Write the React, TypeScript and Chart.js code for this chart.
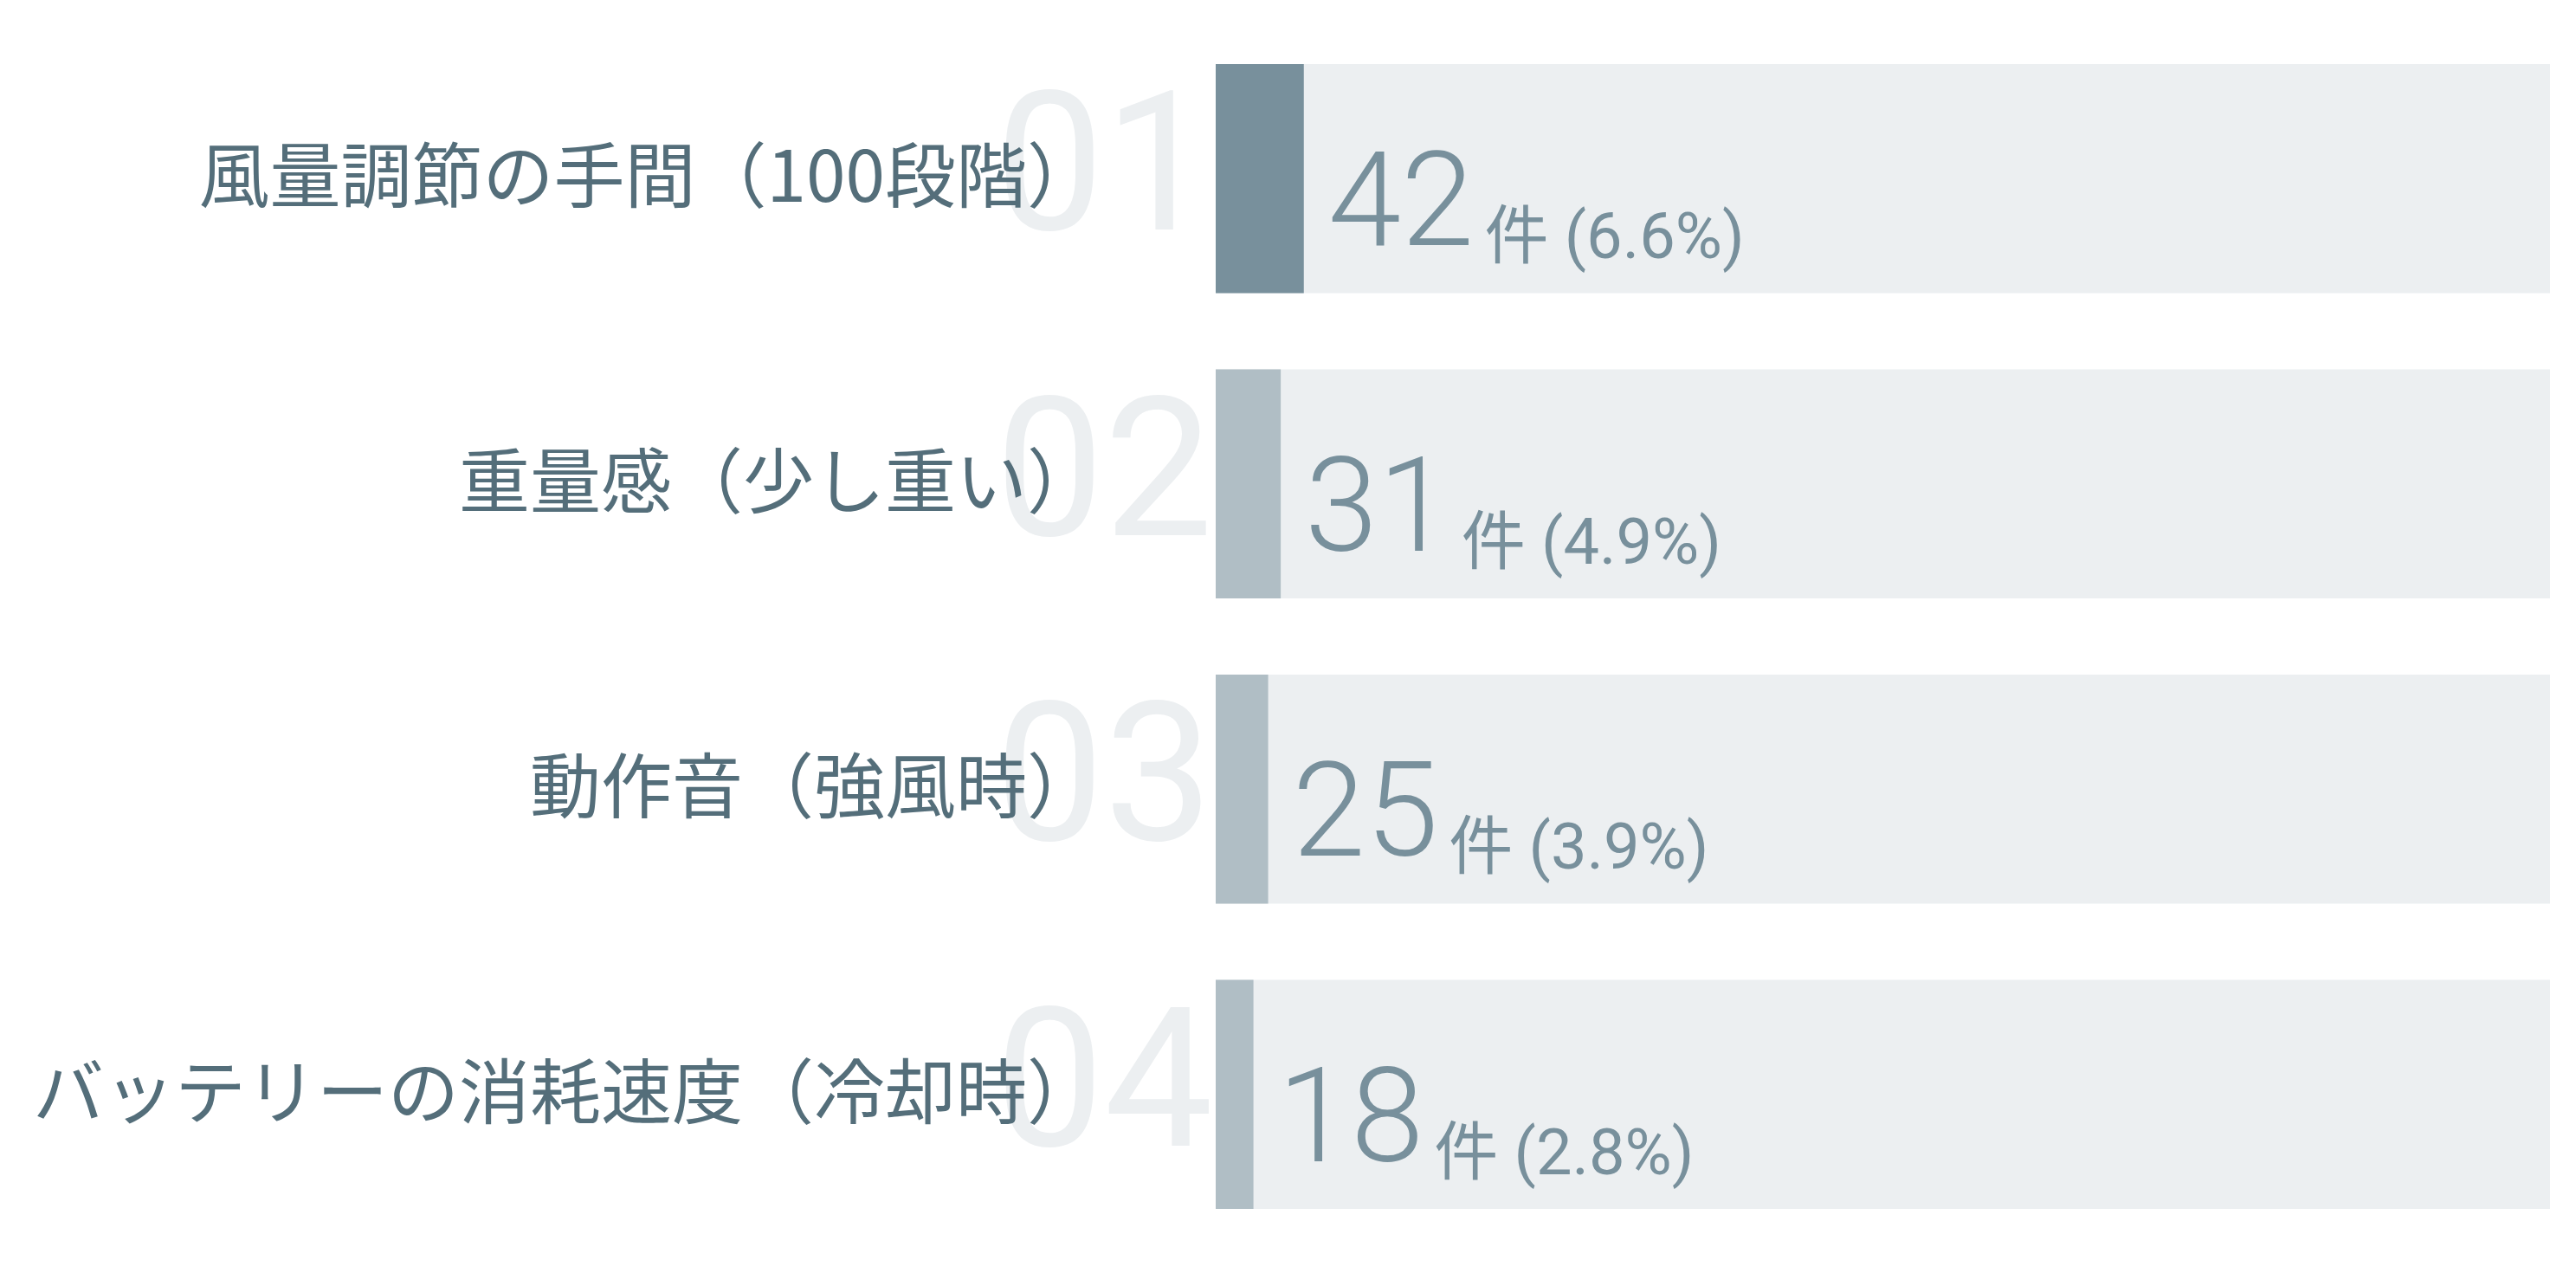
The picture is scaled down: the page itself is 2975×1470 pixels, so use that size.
import React, { useEffect, useRef } from 'react';
import { Chart, registerables } from 'chart.js';

Chart.register(...registerables);

// data
const LABELS = [
  '風量調節の手間（100段階）',
  '重量感（少し重い）',
  '動作音（強風時）',
  'バッテリーの消耗速度（冷却時）',
];
const RANKS = ['01', '02', '03', '04'];
const COUNTS = [42, 31, 25, 18];
const PERCENTS = ['6.6%', '4.9%', '3.9%', '2.8%'];
const TOTAL = 636;
const TRACK = LABELS.map(() => TOTAL);
const BAR_COLORS = ['#78909c', '#b0bec5', '#b0bec5', '#b0bec5'];

const rowTextPlugin = {
  id: 'rowText',
  beforeDatasetsDraw(chart: any) {
    const { ctx, chartArea, scales } = chart;
    ctx.save();
    // big ghost rank numbers behind the labels
    ctx.font = '400 224px Roboto';
    ctx.fillStyle = '#eceff1';
    ctx.textAlign = 'right';
    ctx.textBaseline = 'alphabetic';
    RANKS.forEach((r, i) => {
      const y = scales.y.getPixelForValue(i);
      ctx.fillText(r, chartArea.left - 3, y + 59);
    });
    // category labels
    ctx.font = '400 82px "Noto Sans CJK JP"';
    ctx.fillStyle = '#546e7a';
    ctx.textBaseline = 'middle';
    LABELS.forEach((label, i) => {
      const y = scales.y.getPixelForValue(i);
      ctx.fillText(label, chartArea.left - 136, y - 4);
    });
    ctx.restore();
  },
  afterDatasetsDraw(chart: any) {
    const { ctx } = chart;
    const meta = chart.getDatasetMeta(0);
    ctx.save();
    ctx.fillStyle = '#78909c';
    ctx.textAlign = 'left';
    ctx.textBaseline = 'alphabetic';
    meta.data.forEach((bar: any, i: number) => {
      const x = bar.x + 28;
      ctx.font = '300 152px Roboto';
      const big = String(COUNTS[i]);
      ctx.fillText(big, x, bar.y + 77);
      const w = ctx.measureText(big).width;
      ctx.font = '400 74px Roboto, "Noto Sans CJK JP"';
      ctx.fillText('件 (' + PERCENTS[i] + ')', x + w + 12, bar.y + 92);
    });
    ctx.restore();
  },
};

const RankingChart: React.FC = () => {
  const canvasRef = useRef<HTMLCanvasElement | null>(null);

  useEffect(() => {
    if (!canvasRef.current) return;
    const chart = new Chart(canvasRef.current, {
      type: 'bar',
      data: {
        labels: LABELS,
        datasets: [
          {
            label: '件数',
            data: COUNTS,
            backgroundColor: BAR_COLORS,
            borderWidth: 0,
            grouped: false,
            order: 1,
            categoryPercentage: 0.75,
            barPercentage: 1,
          },
          {
            label: 'total',
            data: TRACK,
            backgroundColor: '#eceff1',
            borderWidth: 0,
            grouped: false,
            order: 2,
            categoryPercentage: 0.75,
            barPercentage: 1,
          },
        ],
      },
      options: {
        indexAxis: 'y',
        responsive: true,
        maintainAspectRatio: false,
        animation: false,
        layout: {
          padding: { left: 1404, right: 30, top: 30, bottom: 30 },
        },
        plugins: {
          legend: { display: false },
          tooltip: { enabled: false },
        },
        scales: {
          x: { display: false, min: 0, max: TOTAL },
          y: { display: false },
        },
      },
      plugins: [rowTextPlugin],
    });
    return () => chart.destroy();
  }, []);

  return (
    <div style={{ position: 'fixed', left: 0, top: 0, width: '100vw', height: '100vh', background: '#fff' }}>
      <canvas ref={canvasRef}></canvas>
    </div>
  );
};

export default function App() {
  return <RankingChart />;
}
